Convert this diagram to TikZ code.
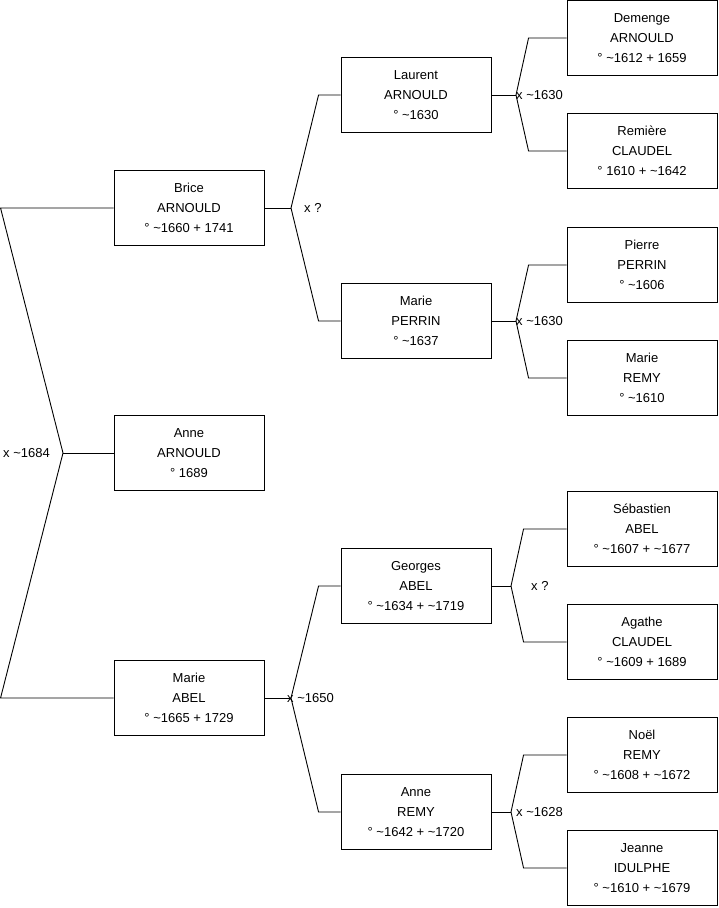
\documentclass[tikz,border=0pt]{standalone}
\usepackage{fontspec}
\setmainfont{Liberation Sans}
\usetikzlibrary{positioning,calc}

\begin{document}
\begin{tikzpicture}[
        x=1pt,y=1pt,
        person/.style={draw,line width=0.9pt,align=center,font=\fontsize{13}{20}\selectfont,minimum width=150pt,minimum height=75pt,inner sep=0pt},
        link/.style={line width=0.9pt},
        union/.style={font=\fontsize{13}{16}\selectfont,inner sep=0pt}
      ]
        \useasboundingbox (0,0) rectangle (719,-908);
        % generation 1
        \node[person] (brice) at (189,-208) {Brice\\ARNOULD\\° \textasciitilde1660 + 1741};
        \node[person] (anneA) at (189,-453) {Anne\\ARNOULD\\° 1689};
        \node[person] (marieA) at (189,-698) {Marie\\ABEL\\° \textasciitilde1665 + 1729};
        % generation 2
        \node[person] (laurent) at (416,-95) {Laurent\\ARNOULD\\° \textasciitilde1630};
        \node[person] (marieP) at (416,-321) {Marie\\PERRIN\\° \textasciitilde1637};
        \node[person] (georges) at (416,-586) {Georges\\ABEL\\° \textasciitilde1634 + \textasciitilde1719};
        \node[person] (anneR) at (416,-812) {Anne\\REMY\\° \textasciitilde1642 + \textasciitilde1720};
        % generation 3
        \node[person] (demenge) at (642,-38) {Demenge\\ARNOULD\\° \textasciitilde1612 + 1659};
        \node[person] (remiere) at (642,-151) {Remière\\CLAUDEL\\° 1610 + \textasciitilde1642};
        \node[person] (pierre) at (642,-265) {Pierre\\PERRIN\\° \textasciitilde1606};
        \node[person] (marieR) at (642,-378) {Marie\\REMY\\° \textasciitilde1610};
        \node[person] (sebastien) at (642,-529) {Sébastien\\ABEL\\° \textasciitilde1607 + \textasciitilde1677};
        \node[person] (agathe) at (642,-642) {Agathe\\CLAUDEL\\° \textasciitilde1609 + 1689};
        \node[person] (noel) at (642,-755) {Noël\\REMY\\° \textasciitilde1608 + \textasciitilde1672};
        \node[person] (jeanne) at (642,-868) {Jeanne\\IDULPHE\\° \textasciitilde1610 + \textasciitilde1679};
        % junctions
        \coordinate (jA) at (63,-453);
        \coordinate (jB) at (291,-208);
        \coordinate (jM) at (291,-698);
        \coordinate (jL) at (516,-95);
        \coordinate (jP) at (516,-321);
        \coordinate (jG) at (511,-586);
        \coordinate (jR) at (511,-812);
        % links
        \draw[link] (anneA.west) -- (jA);
        \draw[link] (jA) -- ([xshift=-113pt]brice.west) -- (brice.west);
        \draw[link] (jA) -- ([xshift=-113pt]marieA.west) -- (marieA.west);
        \draw[link] (brice.east) -- (jB);
        \draw[link] (jB) -- ([xshift=-22pt]laurent.west) -- (laurent.west);
        \draw[link] (jB) -- ([xshift=-22pt]marieP.west) -- (marieP.west);
        \draw[link] (marieA.east) -- (jM);
        \draw[link] (jM) -- ([xshift=-22pt]georges.west) -- (georges.west);
        \draw[link] (jM) -- ([xshift=-22pt]anneR.west) -- (anneR.west);
        \draw[link] (laurent.east) -- (jL);
        \draw[link] (jL) -- ([xshift=-38pt]demenge.west) -- (demenge.west);
        \draw[link] (jL) -- ([xshift=-38pt]remiere.west) -- (remiere.west);
        \draw[link] (marieP.east) -- (jP);
        \draw[link] (jP) -- ([xshift=-38pt]pierre.west) -- (pierre.west);
        \draw[link] (jP) -- ([xshift=-38pt]marieR.west) -- (marieR.west);
        \draw[link] (georges.east) -- (jG);
        \draw[link] (jG) -- ([xshift=-43pt]sebastien.west) -- (sebastien.west);
        \draw[link] (jG) -- ([xshift=-43pt]agathe.west) -- (agathe.west);
        \draw[link] (anneR.east) -- (jR);
        \draw[link] (jR) -- ([xshift=-43pt]noel.west) -- (noel.west);
        \draw[link] (jR) -- ([xshift=-43pt]jeanne.west) -- (jeanne.west);
        % marriages
        \node[union,anchor=east] (mA) at ([xshift=-13pt]jA) {x \textasciitilde1684};
        \node[union,anchor=west] (mB) at ([xshift=13pt]jB) {x ?};
        \node[union,anchor=west] (mM) at ([xshift=-4pt]jM) {x \textasciitilde1650};
        \node[union,anchor=west] (mL) at (jL) {x \textasciitilde1630};
        \node[union,anchor=west] (mP) at (jP) {x \textasciitilde1630};
        \node[union,anchor=west] (mG) at ([xshift=20pt]jG) {x ?};
        \node[union,anchor=west] (mR) at ([xshift=5pt]jR) {x \textasciitilde1628};
      \end{tikzpicture}
\end{document}
